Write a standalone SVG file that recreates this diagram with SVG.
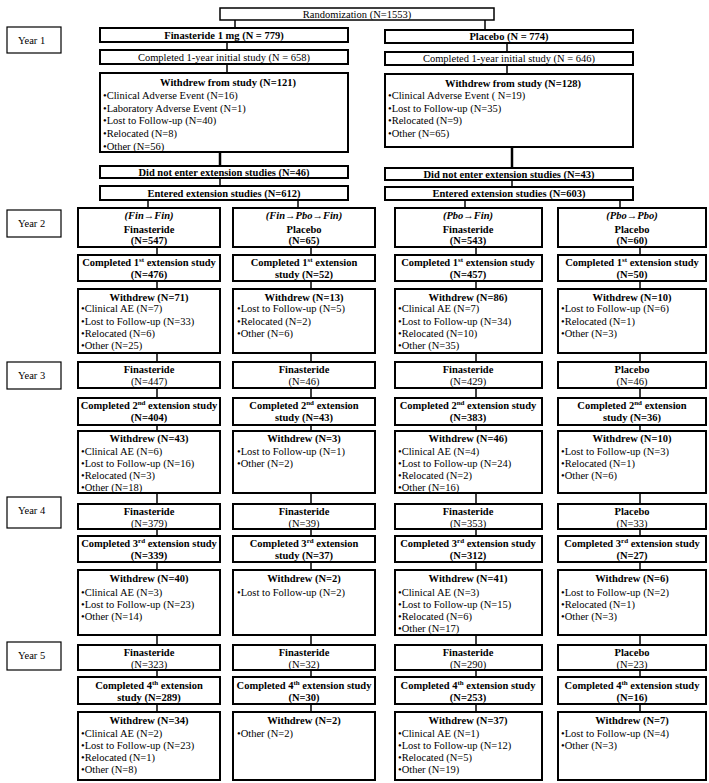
<svg xmlns="http://www.w3.org/2000/svg" width="709" height="783" viewBox="0 0 709 783">
<style>
.bx{fill:#fff;stroke:#000;stroke-width:2}
.yb{fill:#fff;stroke:#000;stroke-width:1.2}
text{font-family:"Liberation Serif","Times New Roman",serif;font-size:10.5px;fill:#000}
.c{text-anchor:middle}
.b{font-weight:bold}
.i{font-style:italic}
.sup{font-size:7px}
#connectors line{stroke:#000;stroke-width:1.5}
#connectors line.k{stroke-width:2.5}
</style>
<rect width="709" height="783" fill="#fff"/>
<g id="connectors">
<line x1="235" y1="20" x2="235" y2="28"/>
<line x1="485" y1="20" x2="485" y2="30"/>
<line x1="227" y1="42" x2="227" y2="50"/>
<line x1="507" y1="43" x2="507" y2="52"/>
<line x1="227" y1="64" x2="227" y2="73"/>
<line x1="507" y1="65" x2="507" y2="74"/>
<line class="k" x1="220" y1="152" x2="220" y2="166"/>
<line class="k" x1="512" y1="147" x2="512" y2="168"/>
<line x1="220" y1="178" x2="220" y2="186"/>
<line x1="512" y1="180" x2="512" y2="187"/>
<line x1="148" y1="200" x2="148" y2="208"/>
<line x1="298" y1="200" x2="298" y2="208"/>
<line x1="465" y1="200" x2="465" y2="208"/>
<line x1="620" y1="200" x2="620" y2="208"/>
<!-- column 1 -->
<line x1="157" y1="247" x2="157" y2="255"/>
<line x1="157" y1="281" x2="157" y2="289"/>
<line x1="157" y1="353" x2="157" y2="362"/>
<line x1="157" y1="388" x2="157" y2="398"/>
<line x1="157" y1="425" x2="157" y2="431"/>
<line x1="157" y1="493" x2="157" y2="504"/>
<line x1="157" y1="529" x2="157" y2="536"/>
<line x1="157" y1="562" x2="157" y2="570"/>
<line x1="157" y1="635" x2="157" y2="645"/>
<line x1="157" y1="670" x2="157" y2="677"/>
<line x1="157" y1="704" x2="157" y2="712"/>
<!-- column 2 -->
<line x1="311" y1="247" x2="311" y2="255"/>
<line x1="311" y1="281" x2="311" y2="289"/>
<line x1="311" y1="353" x2="311" y2="362"/>
<line x1="311" y1="388" x2="311" y2="398"/>
<line x1="311" y1="425" x2="311" y2="431"/>
<line x1="311" y1="493" x2="311" y2="504"/>
<line x1="311" y1="529" x2="311" y2="536"/>
<line x1="311" y1="562" x2="311" y2="570"/>
<line x1="311" y1="635" x2="311" y2="645"/>
<line x1="311" y1="670" x2="311" y2="677"/>
<line x1="311" y1="704" x2="311" y2="712"/>
<!-- column 3 -->
<line x1="476" y1="247" x2="476" y2="255"/>
<line x1="476" y1="281" x2="476" y2="289"/>
<line x1="476" y1="353" x2="476" y2="362"/>
<line x1="476" y1="388" x2="476" y2="398"/>
<line x1="476" y1="425" x2="476" y2="431"/>
<line x1="476" y1="493" x2="476" y2="504"/>
<line x1="476" y1="529" x2="476" y2="536"/>
<line x1="476" y1="562" x2="476" y2="570"/>
<line x1="476" y1="635" x2="476" y2="645"/>
<line x1="476" y1="670" x2="476" y2="677"/>
<line x1="476" y1="704" x2="476" y2="712"/>
<!-- column 4 -->
<line x1="640" y1="247" x2="640" y2="255"/>
<line x1="640" y1="281" x2="640" y2="289"/>
<line x1="640" y1="353" x2="640" y2="362"/>
<line x1="640" y1="388" x2="640" y2="398"/>
<line x1="640" y1="425" x2="640" y2="431"/>
<line x1="640" y1="493" x2="640" y2="504"/>
<line x1="640" y1="529" x2="640" y2="536"/>
<line x1="640" y1="562" x2="640" y2="570"/>
<line x1="640" y1="635" x2="640" y2="645"/>
<line x1="640" y1="670" x2="640" y2="677"/>
<line x1="640" y1="704" x2="640" y2="712"/>
</g>

<!-- Year labels -->
<g id="year1"><rect class="yb" x="7" y="27" width="54" height="26"/><text x="18" y="44">Year 1</text></g>
<g id="year2"><rect class="yb" x="7" y="210" width="54" height="27"/><text x="18" y="227">Year 2</text></g>
<g id="year3"><rect class="yb" x="7" y="362" width="54" height="27"/><text x="18" y="379">Year 3</text></g>
<g id="year4"><rect class="yb" x="7" y="497" width="54" height="31"/><text x="18" y="514">Year 4</text></g>
<g id="year5"><rect class="yb" x="7" y="642" width="54" height="28"/><text x="18" y="659">Year 5</text></g>

<!-- Year 1 -->
<g id="randomization"><rect class="bx" x="220" y="8" width="274" height="12" style="stroke-width:1.5"/><text class="c" x="357" y="18">Randomization (N=1553)</text></g>
<g id="fin1"><rect class="bx" x="100" y="28" width="248" height="14"/><text class="c b" x="224" y="39">Finasteride 1 mg (N = 779)</text></g>
<g id="pbo1"><rect class="bx" x="385" y="30" width="248" height="13"/><text class="c b" x="509" y="40">Placebo (N = 774)</text></g>
<g id="fincomp1"><rect class="bx" x="100" y="50" width="248" height="14"/><text class="c" x="224" y="61">Completed 1-year initial study (N = 658)</text></g>
<g id="pbocomp1"><rect class="bx" x="385" y="52" width="248" height="13"/><text class="c" x="509" y="62">Completed 1-year initial study (N = 646)</text></g>
<g id="finwd1"><rect class="bx" x="100" y="73" width="248" height="79"/>
<text class="c b" x="228" y="86">Withdrew from study (N=121)</text>
<text x="103" y="99">•Clinical Adverse Event (N=16)</text>
<text x="103" y="112">•Laboratory Adverse Event (N=1)</text>
<text x="103" y="124">•Lost to Follow-up (N=40)</text>
<text x="103" y="137">•Relocated (N=8)</text>
<text x="103" y="150">•Other (N=56)</text></g>
<g id="pbowd1"><rect class="bx" x="385" y="74" width="248" height="73"/>
<text class="c b" x="513" y="87">Withdrew from study (N=128)</text>
<text x="388" y="99">•Clinical Adverse Event ( N=19)</text>
<text x="388" y="112">•Lost to Follow-up (N=35)</text>
<text x="388" y="124">•Relocated (N=9)</text>
<text x="388" y="137">•Other (N=65)</text></g>
<g id="finnot"><rect class="bx" x="100" y="166" width="248" height="12"/><text class="c b" x="224" y="176">Did not enter extension studies (N=46)</text></g>
<g id="pbonot"><rect class="bx" x="385" y="168" width="248" height="12"/><text class="c b" x="509" y="178">Did not enter extension studies (N=43)</text></g>
<g id="finent"><rect class="bx" x="100" y="186" width="248" height="14"/><text class="c b" x="224" y="197">Entered extension studies (N=612)</text></g>
<g id="pboent"><rect class="bx" x="385" y="187" width="248" height="13"/><text class="c b" x="509" y="197">Entered extension studies (N=603)</text></g>

<!-- Year 2 arms -->
<g id="c1y2"><rect class="bx" x="78" y="208" width="142" height="39"/><text class="c b i" x="149" y="219">(Fin→Fin)</text><text class="c b" x="149" y="233">Finasteride</text><text class="c b" x="149" y="244">(N=547)</text></g>
<g id="c2y2"><rect class="bx" x="233" y="208" width="142" height="39"/><text class="c b i" x="304" y="219">(Fin→Pbo→Fin)</text><text class="c b" x="304" y="233">Placebo</text><text class="c b" x="304" y="244">(N=65)</text></g>
<g id="c3y2"><rect class="bx" x="395" y="208" width="147" height="39"/><text class="c b i" x="468" y="219">(Pbo→Fin)</text><text class="c b" x="468" y="233">Finasteride</text><text class="c b" x="468" y="244">(N=543)</text></g>
<g id="c4y2"><rect class="bx" x="558" y="208" width="148" height="39"/><text class="c b i" x="632" y="219">(Pbo→Pbo)</text><text class="c b" x="632" y="233">Placebo</text><text class="c b" x="632" y="244">(N=60)</text></g>

<!-- Completed 1st -->
<g id="c1e1"><rect class="bx" x="78" y="255" width="142" height="26"/><text class="c b" x="149" y="266">Completed 1<tspan class="sup" dy="-4">st</tspan><tspan dy="4"> extension study</tspan></text><text class="c b" x="149" y="278">(N=476)</text></g>
<g id="c2e1"><rect class="bx" x="233" y="255" width="142" height="26"/><text class="c b" x="304" y="266">Completed 1<tspan class="sup" dy="-4">st</tspan><tspan dy="4">  extension</tspan></text><text class="c b" x="304" y="278">study (N=52)</text></g>
<g id="c3e1"><rect class="bx" x="395" y="255" width="147" height="26"/><text class="c b" x="468" y="266">Completed 1<tspan class="sup" dy="-4">st</tspan><tspan dy="4">  extension study</tspan></text><text class="c b" x="468" y="278">(N=457)</text></g>
<g id="c4e1"><rect class="bx" x="558" y="255" width="148" height="26"/><text class="c b" x="632" y="266">Completed 1<tspan class="sup" dy="-4">st</tspan><tspan dy="4">  extension study</tspan></text><text class="c b" x="632" y="278">(N=50)</text></g>

<!-- Withdrew year 2 -->
<g id="c1w2"><rect class="bx" x="78" y="289" width="142" height="64"/><text class="c b" x="149" y="301">Withdrew (N=71)</text>
<text x="81" y="312">•Clinical AE (N=7)</text><text x="81" y="325">•Lost to Follow-up (N=33)</text><text x="81" y="337">•Relocated (N=6)</text><text x="81" y="349">•Other (N=25)</text></g>
<g id="c2w2"><rect class="bx" x="233" y="289" width="142" height="64"/><text class="c b" x="304" y="301">Withdrew (N=13)</text>
<text x="237" y="312">•Lost to Follow-up (N=5)</text><text x="237" y="325">•Relocated (N=2)</text><text x="237" y="337">•Other (N=6)</text></g>
<g id="c3w2"><rect class="bx" x="395" y="289" width="147" height="64"/><text class="c b" x="468" y="301">Withdrew (N=86)</text>
<text x="398" y="312">•Clinical AE (N=7)</text><text x="398" y="325">•Lost to Follow-up (N=34)</text><text x="398" y="337">•Relocated (N=10)</text><text x="398" y="349">•Other (N=35)</text></g>
<g id="c4w2"><rect class="bx" x="558" y="289" width="148" height="64"/><text class="c b" x="632" y="301">Withdrew (N=10)</text>
<text x="561" y="312">•Lost to Follow-up (N=6)</text><text x="561" y="325">•Relocated (N=1)</text><text x="561" y="337">•Other (N=3)</text></g>

<!-- Year 3 -->
<g id="c1y3"><rect class="bx" x="78" y="362" width="142" height="26"/><text class="c b" x="149" y="373">Finasteride</text><text class="c" x="149" y="385">(N=447)</text></g>
<g id="c2y3"><rect class="bx" x="233" y="362" width="142" height="26"/><text class="c b" x="304" y="373">Finasteride</text><text class="c" x="304" y="385">(N=46)</text></g>
<g id="c3y3"><rect class="bx" x="395" y="362" width="147" height="26"/><text class="c b" x="468" y="373">Finasteride</text><text class="c" x="468" y="385">(N=429)</text></g>
<g id="c4y3"><rect class="bx" x="558" y="362" width="148" height="26"/><text class="c b" x="632" y="373">Placebo</text><text class="c" x="632" y="385">(N=46)</text></g>

<g id="c1e2"><rect class="bx" x="78" y="398" width="142" height="27"/><text class="c b" x="149" y="409">Completed 2<tspan class="sup" dy="-4">nd</tspan><tspan dy="4"> extension study</tspan></text><text class="c b" x="149" y="421">(N=404)</text></g>
<g id="c2e2"><rect class="bx" x="233" y="398" width="142" height="27"/><text class="c b" x="304" y="409">Completed 2<tspan class="sup" dy="-4">nd</tspan><tspan dy="4"> extension</tspan></text><text class="c b" x="304" y="421">study (N=43)</text></g>
<g id="c3e2"><rect class="bx" x="395" y="398" width="147" height="27"/><text class="c b" x="468" y="409">Completed 2<tspan class="sup" dy="-4">nd</tspan><tspan dy="4">  extension study</tspan></text><text class="c b" x="468" y="421">(N=383)</text></g>
<g id="c4e2"><rect class="bx" x="558" y="398" width="148" height="27"/><text class="c b" x="632" y="409">Completed 2<tspan class="sup" dy="-4">nd</tspan><tspan dy="4">  extension</tspan></text><text class="c b" x="632" y="421">study (N=36)</text></g>

<g id="c1w3"><rect class="bx" x="78" y="431" width="142" height="62"/><text class="c b" x="149" y="442">Withdrew (N=43)</text>
<text x="81" y="455">•Clinical AE (N=6)</text><text x="81" y="467">•Lost to Follow-up (N=16)</text><text x="81" y="479">•Relocated (N=3)</text><text x="81" y="491">•Other (N=18)</text></g>
<g id="c2w3"><rect class="bx" x="233" y="431" width="142" height="62"/><text class="c b" x="304" y="442">Withdrew (N=3)</text>
<text x="237" y="455">•Lost to Follow-up (N=1)</text><text x="237" y="467">•Other (N=2)</text></g>
<g id="c3w3"><rect class="bx" x="395" y="431" width="147" height="62"/><text class="c b" x="468" y="442">Withdrew (N=46)</text>
<text x="398" y="455">•Clinical AE (N=4)</text><text x="398" y="467">•Lost to Follow-up (N=24)</text><text x="398" y="479">•Relocated (N=2)</text><text x="398" y="491">•Other (N=16)</text></g>
<g id="c4w3"><rect class="bx" x="558" y="431" width="148" height="62"/><text class="c b" x="632" y="442">Withdrew (N=10)</text>
<text x="561" y="455">•Lost to Follow-up (N=3)</text><text x="561" y="467">•Relocated (N=1)</text><text x="561" y="479">•Other (N=6)</text></g>

<!-- Year 4 -->
<g id="c1y4"><rect class="bx" x="78" y="504" width="142" height="25"/><text class="c b" x="149" y="515">Finasteride</text><text class="c" x="149" y="527">(N=379)</text></g>
<g id="c2y4"><rect class="bx" x="233" y="504" width="142" height="25"/><text class="c b" x="304" y="515">Finasteride</text><text class="c" x="304" y="527">(N=39)</text></g>
<g id="c3y4"><rect class="bx" x="395" y="504" width="147" height="25"/><text class="c b" x="468" y="515">Finasteride</text><text class="c" x="468" y="527">(N=353)</text></g>
<g id="c4y4"><rect class="bx" x="558" y="504" width="148" height="25"/><text class="c b" x="632" y="515">Placebo</text><text class="c" x="632" y="527">(N=33)</text></g>

<g id="c1e3"><rect class="bx" x="78" y="536" width="142" height="26"/><text class="c b" x="149" y="547">Completed 3<tspan class="sup" dy="-4">rd</tspan><tspan dy="4"> extension study</tspan></text><text class="c b" x="149" y="559">(N=339)</text></g>
<g id="c2e3"><rect class="bx" x="233" y="536" width="142" height="26"/><text class="c b" x="304" y="547">Completed 3<tspan class="sup" dy="-4">rd</tspan><tspan dy="4"> extension</tspan></text><text class="c b" x="304" y="559">study (N=37)</text></g>
<g id="c3e3"><rect class="bx" x="395" y="536" width="147" height="26"/><text class="c b" x="468" y="547">Completed 3<tspan class="sup" dy="-4">rd</tspan><tspan dy="4"> extension study</tspan></text><text class="c b" x="468" y="559">(N=312)</text></g>
<g id="c4e3"><rect class="bx" x="558" y="536" width="148" height="26"/><text class="c b" x="632" y="547">Completed 3<tspan class="sup" dy="-4">rd</tspan><tspan dy="4"> extension study</tspan></text><text class="c b" x="632" y="559">(N=27)</text></g>

<g id="c1w4"><rect class="bx" x="78" y="570" width="142" height="65"/><text class="c b" x="149" y="582">Withdrew (N=40)</text>
<text x="81" y="596">•Clinical AE (N=3)</text><text x="81" y="608">•Lost to Follow-up (N=23)</text><text x="81" y="620">•Other (N=14)</text></g>
<g id="c2w4"><rect class="bx" x="233" y="570" width="142" height="65"/><text class="c b" x="304" y="582">Withdrew (N=2)</text>
<text x="237" y="596">•Lost to Follow-up (N=2)</text></g>
<g id="c3w4"><rect class="bx" x="395" y="570" width="147" height="65"/><text class="c b" x="468" y="582">Withdrew (N=41)</text>
<text x="398" y="596">•Clinical AE (N=3)</text><text x="398" y="608">•Lost to Follow-up (N=15)</text><text x="398" y="620">•Relocated (N=6)</text><text x="398" y="632">•Other (N=17)</text></g>
<g id="c4w4"><rect class="bx" x="558" y="570" width="148" height="65"/><text class="c b" x="632" y="582">Withdrew (N=6)</text>
<text x="561" y="596">•Lost to Follow-up (N=2)</text><text x="561" y="608">•Relocated (N=1)</text><text x="561" y="620">•Other (N=3)</text></g>

<!-- Year 5 -->
<g id="c1y5"><rect class="bx" x="78" y="645" width="142" height="25"/><text class="c b" x="149" y="656">Finasteride</text><text class="c" x="149" y="668">(N=323)</text></g>
<g id="c2y5"><rect class="bx" x="233" y="645" width="142" height="25"/><text class="c b" x="304" y="656">Finasteride</text><text class="c" x="304" y="668">(N=32)</text></g>
<g id="c3y5"><rect class="bx" x="395" y="645" width="147" height="25"/><text class="c b" x="468" y="656">Finasteride</text><text class="c" x="468" y="668">(N=290)</text></g>
<g id="c4y5"><rect class="bx" x="558" y="645" width="148" height="25"/><text class="c b" x="632" y="656">Placebo</text><text class="c" x="632" y="668">(N=23)</text></g>

<g id="c1e4"><rect class="bx" x="78" y="677" width="142" height="27"/><text class="c b" x="149" y="689">Completed 4<tspan class="sup" dy="-4">th</tspan><tspan dy="4">   extension</tspan></text><text class="c b" x="149" y="701">study (N=289)</text></g>
<g id="c2e4"><rect class="bx" x="233" y="677" width="142" height="27"/><text class="c b" x="304" y="689">Completed 4<tspan class="sup" dy="-4">th</tspan><tspan dy="4"> extension study</tspan></text><text class="c b" x="304" y="701">(N=30)</text></g>
<g id="c3e4"><rect class="bx" x="395" y="677" width="147" height="27"/><text class="c b" x="468" y="689">Completed 4<tspan class="sup" dy="-4">th</tspan><tspan dy="4"> extension study</tspan></text><text class="c b" x="468" y="701">(N=253)</text></g>
<g id="c4e4"><rect class="bx" x="558" y="677" width="148" height="27"/><text class="c b" x="632" y="689">Completed 4<tspan class="sup" dy="-4">th</tspan><tspan dy="4"> extension study</tspan></text><text class="c b" x="632" y="701">(N=16)</text></g>

<g id="c1w5"><rect class="bx" x="78" y="712" width="142" height="68"/><text class="c b" x="149" y="724">Withdrew (N=34)</text>
<text x="81" y="737">•Clinical AE (N=2)</text><text x="81" y="749">•Lost to Follow-up (N=23)</text><text x="81" y="761">•Relocated (N=1)</text><text x="81" y="773">•Other (N=8)</text></g>
<g id="c2w5"><rect class="bx" x="233" y="712" width="142" height="68"/><text class="c b" x="304" y="724">Withdrew (N=2)</text>
<text x="237" y="737">•Other (N=2)</text></g>
<g id="c3w5"><rect class="bx" x="395" y="712" width="147" height="68"/><text class="c b" x="468" y="724">Withdrew (N=37)</text>
<text x="398" y="737">•Clinical AE (N=1)</text><text x="398" y="749">•Lost to Follow-up (N=12)</text><text x="398" y="761">•Relocated (N=5)</text><text x="398" y="773">•Other (N=19)</text></g>
<g id="c4w5"><rect class="bx" x="558" y="712" width="148" height="68"/><text class="c b" x="632" y="724">Withdrew (N=7)</text>
<text x="561" y="737">•Lost to Follow-up (N=4)</text><text x="561" y="749">•Other (N=3)</text></g>
</svg>
